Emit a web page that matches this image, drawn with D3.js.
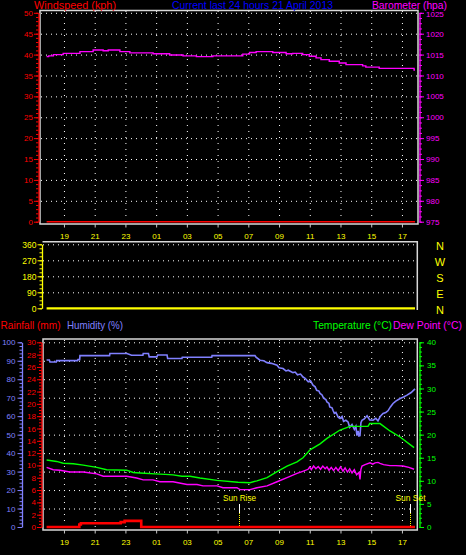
<!DOCTYPE html>
<html><head><meta charset="utf-8">
<script src="https://cdn.jsdelivr.net/npm/d3@7"></script>
<style>
html,body{margin:0;padding:0;background:#000;}
svg{display:block;}
text{font-family:"Liberation Sans",Arial,sans-serif;}
</style></head>
<body><svg id="c" width="466" height="555"></svg>
<script>
// ---------- data ----------
const hourTicks  = [19,21,23,25,27,29,31,33,35,37,39,41];
const hourLabels = ["19","21","23","01","03","05","07","09","11","13","15","17"];
const windTicks  = [0,5,10,15,20,25,30,35,40,45,50];
const baroTicks  = [975,980,985,990,995,1000,1005,1010,1015,1020,1025];
const dirTicks   = [0,90,180,270,360];
const compassLabels = ["N","E","S","W","N"];
const humTicks   = [0,10,20,30,40,50,60,70,80,90,100];
const rainTicks  = [0,2,4,6,8,10,12,14,16,18,20,22,24,26,28,30];
const tempTicks  = [0,5,10,15,20,25,30,35,40];

const windTime  = [17.87, 41.85];
const windValue = [0, 0];
const dirTime   = [17.87, 41.85];
const dirValue  = [0, 0];

const baroTime  = [17.87,18.0,18.31,18.95,20.04,20.9,21.55,21.88,22.64,23.29,24.8,25.88,26.75,27.62,28.69,30.32,30.64,31.08,31.51,32.59,33.46,33.89,34.54,34.97,35.41,35.73,36.27,36.92,37.36,38.44,38.65,39.52,41.25,41.79,41.85];
const baroValue = [1014.5,1014.7,1015.0,1015.3,1015.7,1016.1,1015.9,1016.1,1015.7,1015.4,1015.2,1014.9,1014.7,1014.5,1014.7,1014.7,1015.1,1015.5,1015.7,1015.5,1015.2,1015.3,1015.0,1014.6,1014.2,1013.8,1013.4,1013.0,1012.6,1012.3,1012.0,1011.7,1011.7,1011.3,1011.3];

const rainTime  = [17.87,20.0,20.1,22.69,22.95,24.03,41.85];
const rainValue = [0,0.4,0.6,0.8,1.0,0,0];

const humTime  = [17.87,18.05,18.09,18.50,18.52,19.88,19.91,20.02,20.04,21.97,21.99,23.10,23.40,24.14,24.16,24.50,24.55,25.05,25.10,25.71,25.75,26.68,26.70,28.62,28.64,31.43,31.50,31.76,32.00,32.22,32.50,32.87,33.00,33.26,33.45,33.60,33.91,34.05,34.20,34.40,34.56,34.70,34.90,35.05,35.21,35.35,35.45,35.60,35.67,35.80,35.90,36.05,36.12,36.25,36.30,36.45,36.51,36.60,36.70,36.85,36.97,37.10,37.20,37.35,37.49,37.60,37.75,37.90,38.00,38.07,38.15,38.20,38.27,38.33,38.40,38.55,38.73,38.90,39.12,39.30,39.44,39.60,39.77,39.95,40.09,40.25,40.42,40.60,40.88,41.10,41.33,41.60,41.85];
const humValue = [90.4,90.4,89.3,89.3,90.1,90.1,90.6,90.6,92.8,92.8,93.9,93.9,93.0,93.0,93.9,93.9,92.1,92.1,93.1,93.1,91.2,91.2,91.9,91.9,92.8,92.8,92.0,90.3,90.0,89.0,88.6,87.6,86.2,85.8,84.5,84.9,83.6,83.9,82.4,82.8,81.2,80.5,78.6,79.2,76.8,75.9,74.0,73.6,72.3,71.5,69.8,69.0,67.7,66.9,65.0,64.5,63.2,61.5,62.0,59.5,58.8,59.8,57.2,57.8,56.9,54.0,55.5,52.8,54.5,49.5,52.0,49.3,49.5,56.5,57.8,58.5,60.2,58.0,57.8,58.8,57.5,60.0,61.5,62.0,62.9,65.0,66.9,68.2,69.6,70.4,71.4,72.8,74.8];

const tempTime  = [17.87,18.52,18.95,19.61,20.26,21.13,21.78,23.08,23.51,23.95,24.92,25.58,26.10,26.68,27.20,27.85,28.96,30.33,31.11,31.56,32.22,32.87,33.52,34.17,34.56,35.02,35.67,36.12,36.97,37.62,38.79,38.90,39.57,40.22,40.88,41.79];
const tempValue = [14.5,14.2,13.8,13.7,13.4,12.9,12.4,12.3,11.8,11.7,11.5,11.4,11.3,11.0,11.0,10.6,10.1,9.7,9.6,10.0,10.7,12.0,13.2,14.1,15.0,16.7,18.0,19.2,21.0,21.8,21.8,22.4,22.4,20.8,19.5,17.2];

const dewTime  = [17.87,18.30,18.74,19.39,20.26,21.13,21.56,23.08,23.73,24.16,24.79,25.25,26.10,27.01,27.66,28.05,28.96,29.35,30.26,30.46,31.11,31.56,32.22,32.87,33.52,34.17,34.50,34.89,35.00,35.10,35.25,35.40,35.55,35.70,35.85,36.00,36.12,36.25,36.40,36.55,36.70,36.85,37.00,37.16,37.30,37.45,37.60,37.75,37.90,38.05,38.20,38.27,38.33,38.40,38.60,38.92,39.10,39.25,39.44,39.57,39.80,40.22,40.60,41.07,41.45,41.79];
const dewValue = [12.9,12.4,12.3,11.9,11.9,11.5,11.0,11.0,10.6,10.2,10.2,9.8,9.8,9.2,9.2,8.9,8.9,8.5,8.5,8.1,8.1,8.5,8.9,9.8,10.7,11.6,12.0,12.5,13.0,12.4,13.2,12.6,13.1,12.5,13.2,12.6,13.0,12.3,12.9,12.2,12.9,12.2,13.0,12.1,12.8,11.9,12.6,11.7,12.4,11.3,11.8,10.3,12.5,13.2,13.5,13.9,13.6,13.9,14.0,13.8,13.5,13.3,13.3,13.2,12.9,12.5];

const sunTime   = [30.37, 41.53];
const sunLabels = ["Sun Rise", "Sun Set"];

// ---------- helpers ----------
const svg = d3.select("#c");
const FONT = '"Liberation Sans",Arial,sans-serif';
const pts = (t, v) => t.map((d, i) => [d, v[i]]);

const x = d3.scaleLinear().domain([17.57, 41.98]).range([42, 417]);
const yWind = d3.scaleLinear().domain([0, 50]).range([221.7, 12.8]);
const yBaro = d3.scaleLinear().domain([975, 1025]).range([221.7, 12.8]);
const yDir  = d3.scaleLinear().domain([0, 360]).range([308.3, 244.3]);
const yHum  = d3.scaleLinear().domain([0, 100]).range([527, 342.3]);
const yRain = d3.scaleLinear().domain([0, 30]).range([527, 342.3]);
const yTemp = d3.scaleLinear().domain([0, 40]).range([527, 342.3]);

function hGrid(scale, ticks, x0, x1) {
  svg.append("g").attr("transform", `translate(${x0},0)`)
    .call(d3.axisRight(scale).tickValues(ticks).tickSize(x1 - x0).tickFormat(""))
    .call(g => g.select(".domain").remove())
    .selectAll("line").attr("stroke", "#fff").attr("stroke-dasharray", "1,4");
}
function vGrid(y0, y1) {
  svg.append("g").attr("transform", `translate(0,${y0})`)
    .call(d3.axisBottom(x).tickValues(hourTicks).tickSize(y1 - y0).tickFormat(""))
    .call(g => g.select(".domain").remove())
    .selectAll("line").attr("stroke", "#fff").attr("stroke-dasharray", "1,5");
}
function yAxis(gen, tx, scale, ticks, minorStep, color, fs, pad, fmt) {
  const [a, b] = scale.domain();
  const minor = d3.range(a, b + minorStep / 2, minorStep);
  svg.append("g").attr("transform", `translate(${tx},0)`)
    .call(gen(scale).tickValues(minor).tickSize(2.5).tickFormat(""))
    .call(g => g.select(".domain").remove())
    .selectAll("line").attr("stroke", color);
  const g = svg.append("g").attr("transform", `translate(${tx},0)`)
    .call(gen(scale).tickValues(ticks).tickSize(4.5).tickSizeOuter(0).tickPadding(pad).tickFormat(fmt || (d => d)))
    .attr("font-family", FONT).attr("font-size", fs);
  g.select(".domain").attr("stroke", color).attr("stroke-width", 1.3);
  g.selectAll(".tick line").attr("stroke", color);
  g.selectAll(".tick text").attr("fill", color);
  return g;
}
function xLabels(y0, pad) {
  const g = svg.append("g").attr("transform", `translate(0,${y0})`)
    .call(d3.axisBottom(x).tickValues(hourTicks).tickSize(3.5).tickPadding(pad).tickFormat((d, i) => hourLabels[i]))
    .attr("font-family", FONT).attr("font-size", 8);
  g.select(".domain").remove();
  g.selectAll(".tick line").attr("stroke", "#c8c8c8");
  g.selectAll(".tick text").attr("fill", "#ffff00");
}
function title(txt, x0, y0, w, color, fs) {
  svg.append("text").attr("x", x0).attr("y", y0).attr("fill", color)
    .attr("font-size", fs).attr("textLength", w).attr("lengthAdjust", "spacingAndGlyphs").text(txt);
}
function line(data, xs, ys, color, w, curve) {
  svg.append("path").datum(data).attr("fill", "none").attr("stroke", color)
    .attr("stroke-width", w).attr("stroke-linejoin", "miter")
    .attr("d", d3.line().x(d => xs(d[0])).y(d => ys(d[1])).curve(curve || d3.curveLinear));
}

svg.append("rect").attr("width", 466).attr("height", 555).attr("fill", "#000");

// ---------- top panel ----------
hGrid(yWind, windTicks.slice(1), 41, 417);
vGrid(11, 223);
svg.append("rect").attr("x", 40).attr("y", 10.5).attr("width", 378).attr("height", 213.5)
  .attr("fill", "none").attr("stroke", "#d8d8d8").attr("stroke-width", 1.5);
yAxis(d3.axisLeft, 38.5, yWind, windTicks, 1, "#ff0000", 8, 1);
const baroAxis = yAxis(d3.axisRight, 419.5, yBaro, baroTicks, 1.25, "#ff00ff", 8, 2);
baroAxis.selectAll(".tick text").filter(d => d === 1025).attr("dy", "0.5em");
line(pts(windTime, windValue), x, yWind, "#ff0000", 1.5);
line(pts(baroTime, baroValue), x, yBaro, "#ff00ff", 1.4, d3.curveStepAfter);
xLabels(224, 5.5);

title("Windspeed (kph)", 34, 9.1, 82, "#ff0000", 10);
title("Current last 24 hours 21 April 2013", 172, 9.1, 161, "#0000ff", 10);
title("Barometer (hpa)", 372, 9.1, 75, "#ff00ff", 10);

// ---------- middle panel ----------
hGrid(yDir, dirTicks.slice(1), 43, 417);
svg.append("path").attr("d", "M42.5,241.7H417.3V310").attr("fill", "none")
  .attr("stroke", "#d8d8d8").attr("stroke-width", 1.5);
yAxis(d3.axisLeft, 42, yDir, dirTicks, 22.5, "#ffff00", 8.5, 1);
line(pts(dirTime, dirValue), x, yDir, "#ffff00", 2.2);
dirTicks.forEach((v, i) => {
  svg.append("text").attr("x", 440).attr("y", yDir(v) + 5.5).attr("text-anchor", "middle")
    .attr("fill", "#ffff00").attr("font-size", 11).text(compassLabels[i]);
});

// ---------- bottom panel ----------
hGrid(yHum, humTicks.slice(1), 44, 417);
vGrid(340, 529);
svg.append("rect").attr("x", 43).attr("y", 339).attr("width", 374.3).attr("height", 191)
  .attr("fill", "none").attr("stroke", "#d8d8d8").attr("stroke-width", 1.5);
yAxis(d3.axisLeft, 22, yHum, humTicks, 2, "#8080ff", 8, 2);
yAxis(d3.axisLeft, 41.5, yRain, rainTicks, 0.5, "#ff0000", 8, 1);
yAxis(d3.axisRight, 419.5, yTemp, tempTicks, 1, "#00ff00", 8, 3);

// sunrise / sunset
sunTime.forEach((t, i) => {
  const sx = Math.round(x(t)) + 0.5;
  svg.append("line").attr("x1", sx).attr("x2", sx).attr("y1", 504).attr("y2", 513)
    .attr("stroke", "#fff").attr("stroke-width", 1);
  svg.append("line").attr("x1", sx).attr("x2", sx).attr("y1", 513).attr("y2", 529)
    .attr("stroke", "#ffff00").attr("stroke-width", 1).attr("stroke-dasharray", "1,1");
  svg.append("text").attr("x", sx).attr("y", 500.5).attr("text-anchor", "middle")
    .attr("fill", "#ffff00").attr("font-size", 9)
    .attr("textLength", i === 0 ? 33 : 30).attr("lengthAdjust", "spacingAndGlyphs")
    .text(sunLabels[i]);
});

line(pts(humTime, humValue), x, yHum, "#8080ff", 1.6);
line(pts(dewTime, dewValue), x, yTemp, "#ff00ff", 1.4);
line(pts(tempTime, tempValue), x, yTemp, "#00ff00", 1.4);
line(pts(rainTime, rainValue), x, yRain, "#ff0000", 2.6, d3.curveStepAfter);
xLabels(530, 5.5);

title("Rainfall (mm)", 0.5, 329, 60, "#ff0000", 11);
title("Humidity (%)", 67, 329, 56, "#8080ff", 11);
title("Temperature (°C)", 313, 329, 79, "#00ff00", 11);
title("Dew Point (°C)", 393, 329, 69, "#ff00ff", 11);
</script></body></html>
